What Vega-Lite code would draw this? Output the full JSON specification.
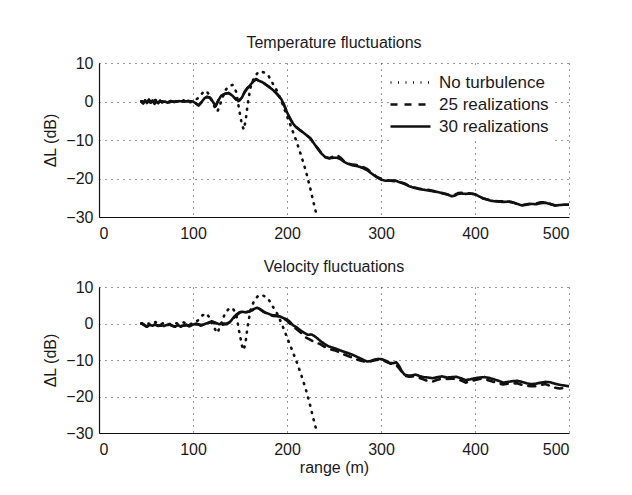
{
  "$schema": "https://vega.github.io/schema/vega-lite/v6.json",
  "padding": {"left": 42, "top": 35, "right": 5, "bottom": 5},
  "background": "white",
  "config": {
    "font": "Liberation Sans",
    "view": {"stroke": null},
    "axis": {
      "labelFont": "Liberation Sans", "labelFontSize": 16, "labelColor": "#1a1a1a",
      "titleFont": "Liberation Sans", "titleFontSize": 16, "titleFontWeight": "normal", "titleColor": "#1a1a1a",
      "domainColor": "#111", "domainWidth": 1.2,
      "ticks": false,
      "gridColor": "#333", "gridDash": [1, 5], "gridWidth": 1, "gridOpacity": 1
    },
    "title": {"font": "Liberation Sans", "fontSize": 16, "fontWeight": "normal", "color": "#1a1a1a", "offset": 4},
    "legend": {"labelFont": "Liberation Sans", "labelFontSize": 17, "labelColor": "#1a1a1a"}
  },
  "datasets": {
    "temp": [
      {"series": "No turbulence", "range": 45, "dL": 0}, {"series": "No turbulence", "range": 50, "dL": 0.3}, {"series": "No turbulence", "range": 55, "dL": -0.3}, {"series": "No turbulence", "range": 60, "dL": 0.4}, {"series": "No turbulence", "range": 65, "dL": -0.2}, {"series": "No turbulence", "range": 70, "dL": 0.2}, {"series": "No turbulence", "range": 75, "dL": -0.2}, {"series": "No turbulence", "range": 80, "dL": 0.2}, {"series": "No turbulence", "range": 85, "dL": -0.1}, {"series": "No turbulence", "range": 90, "dL": 0.3}, {"series": "No turbulence", "range": 95, "dL": -0.3}, {"series": "No turbulence", "range": 100, "dL": 0}, {"series": "No turbulence", "range": 105, "dL": 0.8}, {"series": "No turbulence", "range": 110, "dL": 2.2}, {"series": "No turbulence", "range": 114, "dL": 2.8}, {"series": "No turbulence", "range": 118, "dL": 1.5}, {"series": "No turbulence", "range": 122, "dL": -1}, {"series": "No turbulence", "range": 126, "dL": -2.6}, {"series": "No turbulence", "range": 130, "dL": 0}, {"series": "No turbulence", "range": 134, "dL": 2.8}, {"series": "No turbulence", "range": 138, "dL": 4}, {"series": "No turbulence", "range": 142, "dL": 4.3}, {"series": "No turbulence", "range": 146, "dL": 2.5}, {"series": "No turbulence", "range": 149, "dL": -2}, {"series": "No turbulence", "range": 152, "dL": -6}, {"series": "No turbulence", "range": 154, "dL": -7.3}, {"series": "No turbulence", "range": 156, "dL": -5}, {"series": "No turbulence", "range": 158, "dL": -1}, {"series": "No turbulence", "range": 161, "dL": 3.5}, {"series": "No turbulence", "range": 165, "dL": 6.3}, {"series": "No turbulence", "range": 170, "dL": 7.8}, {"series": "No turbulence", "range": 175, "dL": 7.6}, {"series": "No turbulence", "range": 180, "dL": 6.8}, {"series": "No turbulence", "range": 185, "dL": 4.6}, {"series": "No turbulence", "range": 190, "dL": 2.5}, {"series": "No turbulence", "range": 195, "dL": -0.5}, {"series": "No turbulence", "range": 200, "dL": -3.8}, {"series": "No turbulence", "range": 205, "dL": -7}, {"series": "No turbulence", "range": 210, "dL": -10.3}, {"series": "No turbulence", "range": 215, "dL": -14}, {"series": "No turbulence", "range": 220, "dL": -18}, {"series": "No turbulence", "range": 225, "dL": -22.8}, {"series": "No turbulence", "range": 228, "dL": -26}, {"series": "No turbulence", "range": 231, "dL": -29},
      {"series": "25 realizations", "range": 45, "dL": 0}, {"series": "25 realizations", "range": 47, "dL": -0.5}, {"series": "25 realizations", "range": 49, "dL": 0.3}, {"series": "25 realizations", "range": 51, "dL": -0.4}, {"series": "25 realizations", "range": 53, "dL": 0.5}, {"series": "25 realizations", "range": 55, "dL": -0.3}, {"series": "25 realizations", "range": 57, "dL": 0.2}, {"series": "25 realizations", "range": 59, "dL": -0.6}, {"series": "25 realizations", "range": 61, "dL": 0}, {"series": "25 realizations", "range": 63, "dL": -0.4}, {"series": "25 realizations", "range": 65, "dL": 0.2}, {"series": "25 realizations", "range": 67, "dL": -0.2}, {"series": "25 realizations", "range": 70, "dL": 0}, {"series": "25 realizations", "range": 73, "dL": -0.3}, {"series": "25 realizations", "range": 76, "dL": 0.1}, {"series": "25 realizations", "range": 80, "dL": -0.1}, {"series": "25 realizations", "range": 85, "dL": 0.1}, {"series": "25 realizations", "range": 90, "dL": 0}, {"series": "25 realizations", "range": 95, "dL": 0.1}, {"series": "25 realizations", "range": 100, "dL": 0}, {"series": "25 realizations", "range": 103, "dL": -0.5}, {"series": "25 realizations", "range": 106, "dL": -1}, {"series": "25 realizations", "range": 109, "dL": -0.2}, {"series": "25 realizations", "range": 112, "dL": 0.8}, {"series": "25 realizations", "range": 115, "dL": 1.2}, {"series": "25 realizations", "range": 118, "dL": 1}, {"series": "25 realizations", "range": 121, "dL": 0}, {"series": "25 realizations", "range": 124, "dL": -1.2}, {"series": "25 realizations", "range": 127, "dL": 0.3}, {"series": "25 realizations", "range": 130, "dL": 1.5}, {"series": "25 realizations", "range": 134, "dL": 2}, {"series": "25 realizations", "range": 138, "dL": 2.2}, {"series": "25 realizations", "range": 142, "dL": 1.5}, {"series": "25 realizations", "range": 146, "dL": 0.5}, {"series": "25 realizations", "range": 149, "dL": 0.2}, {"series": "25 realizations", "range": 152, "dL": 1}, {"series": "25 realizations", "range": 155, "dL": 2.5}, {"series": "25 realizations", "range": 158, "dL": 3.5}, {"series": "25 realizations", "range": 161, "dL": 4.3}, {"series": "25 realizations", "range": 164, "dL": 5.2}, {"series": "25 realizations", "range": 167, "dL": 5.8}, {"series": "25 realizations", "range": 170, "dL": 5.4}, {"series": "25 realizations", "range": 174, "dL": 5}, {"series": "25 realizations", "range": 178, "dL": 4.3}, {"series": "25 realizations", "range": 182, "dL": 3.6}, {"series": "25 realizations", "range": 186, "dL": 2.8}, {"series": "25 realizations", "range": 190, "dL": 1.8}, {"series": "25 realizations", "range": 194, "dL": 0.6}, {"series": "25 realizations", "range": 197, "dL": -1}, {"series": "25 realizations", "range": 200, "dL": -2.8}, {"series": "25 realizations", "range": 203, "dL": -4.3}, {"series": "25 realizations", "range": 206, "dL": -5.6}, {"series": "25 realizations", "range": 209, "dL": -6.5}, {"series": "25 realizations", "range": 213, "dL": -7.3}, {"series": "25 realizations", "range": 217, "dL": -8}, {"series": "25 realizations", "range": 221, "dL": -8.8}, {"series": "25 realizations", "range": 225, "dL": -9.6}, {"series": "25 realizations", "range": 229, "dL": -11}, {"series": "25 realizations", "range": 233, "dL": -12.3}, {"series": "25 realizations", "range": 237, "dL": -13.6}, {"series": "25 realizations", "range": 241, "dL": -14.5}, {"series": "25 realizations", "range": 245, "dL": -14.7}, {"series": "25 realizations", "range": 249, "dL": -14.3}, {"series": "25 realizations", "range": 253, "dL": -13.9}, {"series": "25 realizations", "range": 257, "dL": -14.6}, {"series": "25 realizations", "range": 261, "dL": -15.6}, {"series": "25 realizations", "range": 265, "dL": -16.1}, {"series": "25 realizations", "range": 270, "dL": -16.4}, {"series": "25 realizations", "range": 275, "dL": -16.5}, {"series": "25 realizations", "range": 280, "dL": -16.9}, {"series": "25 realizations", "range": 285, "dL": -17.5}, {"series": "25 realizations", "range": 290, "dL": -18.5}, {"series": "25 realizations", "range": 295, "dL": -19.5}, {"series": "25 realizations", "range": 300, "dL": -20.1}, {"series": "25 realizations", "range": 305, "dL": -20.5}, {"series": "25 realizations", "range": 310, "dL": -20.6}, {"series": "25 realizations", "range": 315, "dL": -20.7}, {"series": "25 realizations", "range": 320, "dL": -20.9}, {"series": "25 realizations", "range": 325, "dL": -21.3}, {"series": "25 realizations", "range": 330, "dL": -21.9}, {"series": "25 realizations", "range": 335, "dL": -22.3}, {"series": "25 realizations", "range": 340, "dL": -22.6}, {"series": "25 realizations", "range": 345, "dL": -22.8}, {"series": "25 realizations", "range": 350, "dL": -22.9}, {"series": "25 realizations", "range": 355, "dL": -23.2}, {"series": "25 realizations", "range": 360, "dL": -23.5}, {"series": "25 realizations", "range": 365, "dL": -23.8}, {"series": "25 realizations", "range": 370, "dL": -24.1}, {"series": "25 realizations", "range": 375, "dL": -24.5}, {"series": "25 realizations", "range": 378, "dL": -24.3}, {"series": "25 realizations", "range": 382, "dL": -23.8}, {"series": "25 realizations", "range": 386, "dL": -23.7}, {"series": "25 realizations", "range": 390, "dL": -23.8}, {"series": "25 realizations", "range": 395, "dL": -23.9}, {"series": "25 realizations", "range": 400, "dL": -24.1}, {"series": "25 realizations", "range": 404, "dL": -24.6}, {"series": "25 realizations", "range": 408, "dL": -25.1}, {"series": "25 realizations", "range": 412, "dL": -25.4}, {"series": "25 realizations", "range": 416, "dL": -25.6}, {"series": "25 realizations", "range": 420, "dL": -25.8}, {"series": "25 realizations", "range": 425, "dL": -25.9}, {"series": "25 realizations", "range": 430, "dL": -25.9}, {"series": "25 realizations", "range": 435, "dL": -25.9}, {"series": "25 realizations", "range": 440, "dL": -26.2}, {"series": "25 realizations", "range": 445, "dL": -26.6}, {"series": "25 realizations", "range": 450, "dL": -26.9}, {"series": "25 realizations", "range": 455, "dL": -26.7}, {"series": "25 realizations", "range": 460, "dL": -26.5}, {"series": "25 realizations", "range": 465, "dL": -26.5}, {"series": "25 realizations", "range": 470, "dL": -26.2}, {"series": "25 realizations", "range": 475, "dL": -26.2}, {"series": "25 realizations", "range": 480, "dL": -26.6}, {"series": "25 realizations", "range": 485, "dL": -27}, {"series": "25 realizations", "range": 490, "dL": -26.9}, {"series": "25 realizations", "range": 495, "dL": -26.8}, {"series": "25 realizations", "range": 500, "dL": -26.8},
      {"series": "30 realizations", "range": 45, "dL": 0}, {"series": "30 realizations", "range": 47, "dL": -0.5}, {"series": "30 realizations", "range": 49, "dL": 0.3}, {"series": "30 realizations", "range": 51, "dL": -0.4}, {"series": "30 realizations", "range": 53, "dL": 0.5}, {"series": "30 realizations", "range": 55, "dL": -0.3}, {"series": "30 realizations", "range": 57, "dL": 0.2}, {"series": "30 realizations", "range": 59, "dL": -0.6}, {"series": "30 realizations", "range": 61, "dL": 0}, {"series": "30 realizations", "range": 63, "dL": -0.4}, {"series": "30 realizations", "range": 65, "dL": 0.2}, {"series": "30 realizations", "range": 67, "dL": -0.2}, {"series": "30 realizations", "range": 70, "dL": 0}, {"series": "30 realizations", "range": 73, "dL": -0.3}, {"series": "30 realizations", "range": 76, "dL": 0.1}, {"series": "30 realizations", "range": 80, "dL": -0.1}, {"series": "30 realizations", "range": 85, "dL": 0.1}, {"series": "30 realizations", "range": 90, "dL": 0}, {"series": "30 realizations", "range": 95, "dL": 0.1}, {"series": "30 realizations", "range": 100, "dL": 0}, {"series": "30 realizations", "range": 103, "dL": -0.5}, {"series": "30 realizations", "range": 106, "dL": -1}, {"series": "30 realizations", "range": 109, "dL": -0.2}, {"series": "30 realizations", "range": 112, "dL": 0.8}, {"series": "30 realizations", "range": 115, "dL": 1.2}, {"series": "30 realizations", "range": 118, "dL": 1}, {"series": "30 realizations", "range": 121, "dL": 0}, {"series": "30 realizations", "range": 124, "dL": -1.2}, {"series": "30 realizations", "range": 127, "dL": 0.3}, {"series": "30 realizations", "range": 130, "dL": 1.5}, {"series": "30 realizations", "range": 134, "dL": 2}, {"series": "30 realizations", "range": 138, "dL": 2.2}, {"series": "30 realizations", "range": 142, "dL": 1.5}, {"series": "30 realizations", "range": 146, "dL": 0.5}, {"series": "30 realizations", "range": 149, "dL": 0.2}, {"series": "30 realizations", "range": 152, "dL": 1}, {"series": "30 realizations", "range": 155, "dL": 2.5}, {"series": "30 realizations", "range": 158, "dL": 3.5}, {"series": "30 realizations", "range": 161, "dL": 4.3}, {"series": "30 realizations", "range": 164, "dL": 5.2}, {"series": "30 realizations", "range": 167, "dL": 5.8}, {"series": "30 realizations", "range": 170, "dL": 5.4}, {"series": "30 realizations", "range": 174, "dL": 5}, {"series": "30 realizations", "range": 178, "dL": 4.3}, {"series": "30 realizations", "range": 182, "dL": 3.6}, {"series": "30 realizations", "range": 186, "dL": 2.8}, {"series": "30 realizations", "range": 190, "dL": 1.8}, {"series": "30 realizations", "range": 194, "dL": 0.6}, {"series": "30 realizations", "range": 197, "dL": -1}, {"series": "30 realizations", "range": 200, "dL": -2.8}, {"series": "30 realizations", "range": 203, "dL": -4.3}, {"series": "30 realizations", "range": 206, "dL": -5.6}, {"series": "30 realizations", "range": 209, "dL": -6.5}, {"series": "30 realizations", "range": 213, "dL": -7.3}, {"series": "30 realizations", "range": 217, "dL": -8}, {"series": "30 realizations", "range": 221, "dL": -8.8}, {"series": "30 realizations", "range": 225, "dL": -9.6}, {"series": "30 realizations", "range": 229, "dL": -11}, {"series": "30 realizations", "range": 233, "dL": -12.3}, {"series": "30 realizations", "range": 237, "dL": -13.6}, {"series": "30 realizations", "range": 241, "dL": -14.5}, {"series": "30 realizations", "range": 245, "dL": -14.8}, {"series": "30 realizations", "range": 249, "dL": -14.6}, {"series": "30 realizations", "range": 253, "dL": -14.6}, {"series": "30 realizations", "range": 257, "dL": -15}, {"series": "30 realizations", "range": 261, "dL": -15.7}, {"series": "30 realizations", "range": 265, "dL": -16.2}, {"series": "30 realizations", "range": 270, "dL": -16.6}, {"series": "30 realizations", "range": 275, "dL": -16.8}, {"series": "30 realizations", "range": 280, "dL": -17.2}, {"series": "30 realizations", "range": 285, "dL": -17.8}, {"series": "30 realizations", "range": 290, "dL": -18.7}, {"series": "30 realizations", "range": 295, "dL": -19.6}, {"series": "30 realizations", "range": 300, "dL": -20.3}, {"series": "30 realizations", "range": 305, "dL": -20.6}, {"series": "30 realizations", "range": 310, "dL": -20.5}, {"series": "30 realizations", "range": 315, "dL": -20.5}, {"series": "30 realizations", "range": 320, "dL": -21}, {"series": "30 realizations", "range": 325, "dL": -21.4}, {"series": "30 realizations", "range": 330, "dL": -22}, {"series": "30 realizations", "range": 335, "dL": -22.4}, {"series": "30 realizations", "range": 340, "dL": -22.7}, {"series": "30 realizations", "range": 345, "dL": -22.9}, {"series": "30 realizations", "range": 350, "dL": -23.1}, {"series": "30 realizations", "range": 355, "dL": -23.3}, {"series": "30 realizations", "range": 360, "dL": -23.5}, {"series": "30 realizations", "range": 365, "dL": -23.8}, {"series": "30 realizations", "range": 370, "dL": -24.1}, {"series": "30 realizations", "range": 375, "dL": -24.6}, {"series": "30 realizations", "range": 378, "dL": -24.5}, {"series": "30 realizations", "range": 382, "dL": -24}, {"series": "30 realizations", "range": 386, "dL": -23.9}, {"series": "30 realizations", "range": 390, "dL": -24}, {"series": "30 realizations", "range": 395, "dL": -23.9}, {"series": "30 realizations", "range": 400, "dL": -24.1}, {"series": "30 realizations", "range": 404, "dL": -24.6}, {"series": "30 realizations", "range": 408, "dL": -25.1}, {"series": "30 realizations", "range": 412, "dL": -25.4}, {"series": "30 realizations", "range": 416, "dL": -25.7}, {"series": "30 realizations", "range": 420, "dL": -25.9}, {"series": "30 realizations", "range": 425, "dL": -26}, {"series": "30 realizations", "range": 430, "dL": -26.1}, {"series": "30 realizations", "range": 435, "dL": -26}, {"series": "30 realizations", "range": 440, "dL": -26.2}, {"series": "30 realizations", "range": 445, "dL": -26.6}, {"series": "30 realizations", "range": 450, "dL": -27}, {"series": "30 realizations", "range": 455, "dL": -26.8}, {"series": "30 realizations", "range": 460, "dL": -26.6}, {"series": "30 realizations", "range": 465, "dL": -26.7}, {"series": "30 realizations", "range": 470, "dL": -26.4}, {"series": "30 realizations", "range": 475, "dL": -26.3}, {"series": "30 realizations", "range": 480, "dL": -26.6}, {"series": "30 realizations", "range": 485, "dL": -27}, {"series": "30 realizations", "range": 490, "dL": -26.9}, {"series": "30 realizations", "range": 495, "dL": -26.8}, {"series": "30 realizations", "range": 500, "dL": -26.8}
    ],
    "vel": [
      {"series": "No turbulence", "range": 45, "dL": 0}, {"series": "No turbulence", "range": 50, "dL": 0.3}, {"series": "No turbulence", "range": 55, "dL": -0.3}, {"series": "No turbulence", "range": 60, "dL": 0.4}, {"series": "No turbulence", "range": 65, "dL": -0.2}, {"series": "No turbulence", "range": 70, "dL": 0.2}, {"series": "No turbulence", "range": 75, "dL": -0.2}, {"series": "No turbulence", "range": 80, "dL": 0.2}, {"series": "No turbulence", "range": 85, "dL": -0.1}, {"series": "No turbulence", "range": 90, "dL": 0.3}, {"series": "No turbulence", "range": 95, "dL": -0.3}, {"series": "No turbulence", "range": 100, "dL": 0}, {"series": "No turbulence", "range": 105, "dL": 0.8}, {"series": "No turbulence", "range": 110, "dL": 2.2}, {"series": "No turbulence", "range": 114, "dL": 2.8}, {"series": "No turbulence", "range": 118, "dL": 1.5}, {"series": "No turbulence", "range": 122, "dL": -1}, {"series": "No turbulence", "range": 126, "dL": -2.6}, {"series": "No turbulence", "range": 130, "dL": 0}, {"series": "No turbulence", "range": 134, "dL": 2.8}, {"series": "No turbulence", "range": 138, "dL": 4}, {"series": "No turbulence", "range": 142, "dL": 4.3}, {"series": "No turbulence", "range": 146, "dL": 2.5}, {"series": "No turbulence", "range": 149, "dL": -2}, {"series": "No turbulence", "range": 152, "dL": -6}, {"series": "No turbulence", "range": 154, "dL": -7.3}, {"series": "No turbulence", "range": 156, "dL": -5}, {"series": "No turbulence", "range": 158, "dL": -1}, {"series": "No turbulence", "range": 161, "dL": 3.5}, {"series": "No turbulence", "range": 165, "dL": 6.3}, {"series": "No turbulence", "range": 170, "dL": 7.8}, {"series": "No turbulence", "range": 175, "dL": 7.6}, {"series": "No turbulence", "range": 180, "dL": 6.8}, {"series": "No turbulence", "range": 185, "dL": 4.6}, {"series": "No turbulence", "range": 190, "dL": 2.5}, {"series": "No turbulence", "range": 195, "dL": -0.5}, {"series": "No turbulence", "range": 200, "dL": -3.8}, {"series": "No turbulence", "range": 205, "dL": -7}, {"series": "No turbulence", "range": 210, "dL": -10.3}, {"series": "No turbulence", "range": 215, "dL": -14}, {"series": "No turbulence", "range": 220, "dL": -18}, {"series": "No turbulence", "range": 225, "dL": -22.8}, {"series": "No turbulence", "range": 228, "dL": -26}, {"series": "No turbulence", "range": 231, "dL": -29},
      {"series": "25 realizations", "range": 45, "dL": 0}, {"series": "25 realizations", "range": 50, "dL": -0.8}, {"series": "25 realizations", "range": 55, "dL": -0.5}, {"series": "25 realizations", "range": 60, "dL": -0.4}, {"series": "25 realizations", "range": 65, "dL": -0.6}, {"series": "25 realizations", "range": 70, "dL": -0.6}, {"series": "25 realizations", "range": 75, "dL": -0.3}, {"series": "25 realizations", "range": 80, "dL": -0.8}, {"series": "25 realizations", "range": 85, "dL": -0.6}, {"series": "25 realizations", "range": 90, "dL": -0.6}, {"series": "25 realizations", "range": 95, "dL": -0.5}, {"series": "25 realizations", "range": 100, "dL": -0.4}, {"series": "25 realizations", "range": 105, "dL": -0.2}, {"series": "25 realizations", "range": 110, "dL": -0.4}, {"series": "25 realizations", "range": 115, "dL": 0}, {"series": "25 realizations", "range": 120, "dL": 0.4}, {"series": "25 realizations", "range": 125, "dL": 0}, {"series": "25 realizations", "range": 130, "dL": -0.4}, {"series": "25 realizations", "range": 135, "dL": -0.1}, {"series": "25 realizations", "range": 140, "dL": 0.4}, {"series": "25 realizations", "range": 145, "dL": 2}, {"series": "25 realizations", "range": 150, "dL": 3}, {"series": "25 realizations", "range": 155, "dL": 3}, {"series": "25 realizations", "range": 160, "dL": 3.3}, {"series": "25 realizations", "range": 165, "dL": 3.8}, {"series": "25 realizations", "range": 170, "dL": 4.1}, {"series": "25 realizations", "range": 175, "dL": 3.2}, {"series": "25 realizations", "range": 180, "dL": 2.5}, {"series": "25 realizations", "range": 185, "dL": 2.1}, {"series": "25 realizations", "range": 190, "dL": 2}, {"series": "25 realizations", "range": 195, "dL": 1.6}, {"series": "25 realizations", "range": 200, "dL": 0.8}, {"series": "25 realizations", "range": 205, "dL": -0.6}, {"series": "25 realizations", "range": 210, "dL": -1.5}, {"series": "25 realizations", "range": 215, "dL": -2.6}, {"series": "25 realizations", "range": 220, "dL": -3.8}, {"series": "25 realizations", "range": 225, "dL": -4.5}, {"series": "25 realizations", "range": 230, "dL": -5.2}, {"series": "25 realizations", "range": 235, "dL": -5.6}, {"series": "25 realizations", "range": 240, "dL": -6.4}, {"series": "25 realizations", "range": 245, "dL": -7}, {"series": "25 realizations", "range": 250, "dL": -7.3}, {"series": "25 realizations", "range": 255, "dL": -7.8}, {"series": "25 realizations", "range": 260, "dL": -8.4}, {"series": "25 realizations", "range": 265, "dL": -8.9}, {"series": "25 realizations", "range": 270, "dL": -9.4}, {"series": "25 realizations", "range": 275, "dL": -9.9}, {"series": "25 realizations", "range": 280, "dL": -10.3}, {"series": "25 realizations", "range": 285, "dL": -10.6}, {"series": "25 realizations", "range": 290, "dL": -10.3}, {"series": "25 realizations", "range": 295, "dL": -10}, {"series": "25 realizations", "range": 300, "dL": -10}, {"series": "25 realizations", "range": 305, "dL": -10.4}, {"series": "25 realizations", "range": 310, "dL": -11}, {"series": "25 realizations", "range": 315, "dL": -11}, {"series": "25 realizations", "range": 320, "dL": -12.5}, {"series": "25 realizations", "range": 325, "dL": -14.3}, {"series": "25 realizations", "range": 330, "dL": -14.6}, {"series": "25 realizations", "range": 335, "dL": -14.5}, {"series": "25 realizations", "range": 340, "dL": -14.8}, {"series": "25 realizations", "range": 345, "dL": -15.3}, {"series": "25 realizations", "range": 350, "dL": -15.8}, {"series": "25 realizations", "range": 355, "dL": -15.9}, {"series": "25 realizations", "range": 360, "dL": -15.4}, {"series": "25 realizations", "range": 365, "dL": -15.1}, {"series": "25 realizations", "range": 370, "dL": -15.2}, {"series": "25 realizations", "range": 375, "dL": -15.1}, {"series": "25 realizations", "range": 380, "dL": -15.2}, {"series": "25 realizations", "range": 385, "dL": -15.6}, {"series": "25 realizations", "range": 390, "dL": -16.2}, {"series": "25 realizations", "range": 395, "dL": -15.9}, {"series": "25 realizations", "range": 400, "dL": -15.5}, {"series": "25 realizations", "range": 405, "dL": -15.2}, {"series": "25 realizations", "range": 410, "dL": -15.2}, {"series": "25 realizations", "range": 415, "dL": -15.6}, {"series": "25 realizations", "range": 420, "dL": -16}, {"series": "25 realizations", "range": 425, "dL": -16.4}, {"series": "25 realizations", "range": 430, "dL": -16.7}, {"series": "25 realizations", "range": 435, "dL": -16.5}, {"series": "25 realizations", "range": 440, "dL": -16.4}, {"series": "25 realizations", "range": 445, "dL": -16.4}, {"series": "25 realizations", "range": 450, "dL": -16.8}, {"series": "25 realizations", "range": 455, "dL": -17.1}, {"series": "25 realizations", "range": 460, "dL": -17.2}, {"series": "25 realizations", "range": 465, "dL": -17.2}, {"series": "25 realizations", "range": 470, "dL": -16.8}, {"series": "25 realizations", "range": 475, "dL": -16.6}, {"series": "25 realizations", "range": 480, "dL": -17.1}, {"series": "25 realizations", "range": 485, "dL": -17.6}, {"series": "25 realizations", "range": 490, "dL": -17.8}, {"series": "25 realizations", "range": 495, "dL": -17.7}, {"series": "25 realizations", "range": 500, "dL": -17.6},
      {"series": "30 realizations", "range": 45, "dL": 0}, {"series": "30 realizations", "range": 48, "dL": -0.3}, {"series": "30 realizations", "range": 51, "dL": -0.9}, {"series": "30 realizations", "range": 54, "dL": -0.4}, {"series": "30 realizations", "range": 57, "dL": -0.6}, {"series": "30 realizations", "range": 60, "dL": -0.2}, {"series": "30 realizations", "range": 63, "dL": -0.7}, {"series": "30 realizations", "range": 66, "dL": -0.3}, {"series": "30 realizations", "range": 69, "dL": -0.7}, {"series": "30 realizations", "range": 72, "dL": -0.4}, {"series": "30 realizations", "range": 75, "dL": -0.2}, {"series": "30 realizations", "range": 78, "dL": -0.6}, {"series": "30 realizations", "range": 81, "dL": -0.9}, {"series": "30 realizations", "range": 84, "dL": -0.4}, {"series": "30 realizations", "range": 87, "dL": -0.9}, {"series": "30 realizations", "range": 90, "dL": -0.5}, {"series": "30 realizations", "range": 93, "dL": -0.3}, {"series": "30 realizations", "range": 96, "dL": -0.8}, {"series": "30 realizations", "range": 100, "dL": -0.3}, {"series": "30 realizations", "range": 104, "dL": 0}, {"series": "30 realizations", "range": 108, "dL": -0.6}, {"series": "30 realizations", "range": 112, "dL": -0.2}, {"series": "30 realizations", "range": 116, "dL": 0.2}, {"series": "30 realizations", "range": 120, "dL": 0.6}, {"series": "30 realizations", "range": 124, "dL": 0.2}, {"series": "30 realizations", "range": 128, "dL": -0.2}, {"series": "30 realizations", "range": 132, "dL": 0}, {"series": "30 realizations", "range": 136, "dL": -0.2}, {"series": "30 realizations", "range": 140, "dL": 0.6}, {"series": "30 realizations", "range": 143, "dL": 1.6}, {"series": "30 realizations", "range": 146, "dL": 2.4}, {"series": "30 realizations", "range": 149, "dL": 3}, {"series": "30 realizations", "range": 152, "dL": 3.2}, {"series": "30 realizations", "range": 156, "dL": 3.1}, {"series": "30 realizations", "range": 160, "dL": 3.3}, {"series": "30 realizations", "range": 164, "dL": 3.9}, {"series": "30 realizations", "range": 168, "dL": 4.3}, {"series": "30 realizations", "range": 171, "dL": 4}, {"series": "30 realizations", "range": 174, "dL": 3.5}, {"series": "30 realizations", "range": 177, "dL": 3}, {"series": "30 realizations", "range": 180, "dL": 2.7}, {"series": "30 realizations", "range": 184, "dL": 2.3}, {"series": "30 realizations", "range": 188, "dL": 2.2}, {"series": "30 realizations", "range": 192, "dL": 2}, {"series": "30 realizations", "range": 196, "dL": 1.5}, {"series": "30 realizations", "range": 200, "dL": 1.1}, {"series": "30 realizations", "range": 203, "dL": 0.5}, {"series": "30 realizations", "range": 206, "dL": -0.4}, {"series": "30 realizations", "range": 210, "dL": -1}, {"series": "30 realizations", "range": 214, "dL": -1.8}, {"series": "30 realizations", "range": 218, "dL": -2.5}, {"series": "30 realizations", "range": 222, "dL": -3.1}, {"series": "30 realizations", "range": 226, "dL": -3}, {"series": "30 realizations", "range": 229, "dL": -3.4}, {"series": "30 realizations", "range": 232, "dL": -4}, {"series": "30 realizations", "range": 236, "dL": -4.9}, {"series": "30 realizations", "range": 240, "dL": -5.6}, {"series": "30 realizations", "range": 244, "dL": -6.2}, {"series": "30 realizations", "range": 248, "dL": -6.6}, {"series": "30 realizations", "range": 252, "dL": -6.9}, {"series": "30 realizations", "range": 256, "dL": -7.3}, {"series": "30 realizations", "range": 260, "dL": -7.7}, {"series": "30 realizations", "range": 265, "dL": -8.1}, {"series": "30 realizations", "range": 270, "dL": -8.6}, {"series": "30 realizations", "range": 275, "dL": -9.2}, {"series": "30 realizations", "range": 280, "dL": -9.8}, {"series": "30 realizations", "range": 285, "dL": -10.4}, {"series": "30 realizations", "range": 289, "dL": -10.3}, {"series": "30 realizations", "range": 293, "dL": -9.9}, {"series": "30 realizations", "range": 297, "dL": -9.7}, {"series": "30 realizations", "range": 301, "dL": -9.8}, {"series": "30 realizations", "range": 305, "dL": -10.2}, {"series": "30 realizations", "range": 309, "dL": -10.8}, {"series": "30 realizations", "range": 313, "dL": -10.9}, {"series": "30 realizations", "range": 316, "dL": -10.6}, {"series": "30 realizations", "range": 319, "dL": -11.5}, {"series": "30 realizations", "range": 322, "dL": -13}, {"series": "30 realizations", "range": 325, "dL": -14}, {"series": "30 realizations", "range": 329, "dL": -14.3}, {"series": "30 realizations", "range": 333, "dL": -14.2}, {"series": "30 realizations", "range": 337, "dL": -14}, {"series": "30 realizations", "range": 341, "dL": -14.4}, {"series": "30 realizations", "range": 345, "dL": -14.7}, {"series": "30 realizations", "range": 350, "dL": -14.8}, {"series": "30 realizations", "range": 355, "dL": -15}, {"series": "30 realizations", "range": 360, "dL": -14.7}, {"series": "30 realizations", "range": 365, "dL": -14.5}, {"series": "30 realizations", "range": 370, "dL": -14.8}, {"series": "30 realizations", "range": 375, "dL": -14.7}, {"series": "30 realizations", "range": 380, "dL": -14.6}, {"series": "30 realizations", "range": 385, "dL": -15}, {"series": "30 realizations", "range": 390, "dL": -15.5}, {"series": "30 realizations", "range": 395, "dL": -15.3}, {"series": "30 realizations", "range": 400, "dL": -15}, {"series": "30 realizations", "range": 405, "dL": -14.8}, {"series": "30 realizations", "range": 410, "dL": -14.7}, {"series": "30 realizations", "range": 415, "dL": -14.9}, {"series": "30 realizations", "range": 420, "dL": -15.3}, {"series": "30 realizations", "range": 425, "dL": -15.7}, {"series": "30 realizations", "range": 430, "dL": -16.2}, {"series": "30 realizations", "range": 435, "dL": -16}, {"series": "30 realizations", "range": 440, "dL": -15.8}, {"series": "30 realizations", "range": 445, "dL": -15.7}, {"series": "30 realizations", "range": 450, "dL": -16}, {"series": "30 realizations", "range": 455, "dL": -16.4}, {"series": "30 realizations", "range": 460, "dL": -16.6}, {"series": "30 realizations", "range": 465, "dL": -16.5}, {"series": "30 realizations", "range": 470, "dL": -16.2}, {"series": "30 realizations", "range": 475, "dL": -16}, {"series": "30 realizations", "range": 480, "dL": -16.1}, {"series": "30 realizations", "range": 485, "dL": -16.5}, {"series": "30 realizations", "range": 490, "dL": -16.8}, {"series": "30 realizations", "range": 495, "dL": -17}, {"series": "30 realizations", "range": 500, "dL": -17.2}
    ]
  },
  "vconcat": [
    {
      "width": 470, "height": 154,
      "title": "Temperature fluctuations",
      "data": {"name": "temp"},
      "mark": {"type": "line", "color": "#111", "strokeWidth": 2.6, "strokeCap": "round", "strokeJoin": "round", "clip": true},
      "encoding": {
        "x": {"field": "range", "type": "quantitative", "scale": {"domain": [0, 500], "nice": false},
              "axis": {"title": null, "values": [0, 100, 200, 300, 400, 500], "labelPadding": 8}},
        "y": {"field": "dL", "type": "quantitative", "scale": {"domain": [-30, 10], "nice": false},
              "axis": {"title": "ΔL (dB)", "values": [-30, -20, -10, 0, 10], "labelPadding": 6, "titlePadding": 7}},
        "strokeDash": {"field": "series", "type": "nominal",
          "scale": {"domain": ["No turbulence", "25 realizations", "30 realizations"], "range": [[1, 6.5], [7, 7], [1, 0]]},
          "legend": {"title": null, "orient": "none", "legendX": 294, "legendY": 2, "padding": 6, "fillColor": "white",
                     "symbolType": "M-2,0H2", "symbolSize": 400, "symbolStrokeWidth": 2.6, "symbolStrokeColor": "#111",
                     "labelOffset": 17, "rowPadding": 2}}
      }
    },
    {
      "width": 470, "height": 146,
      "title": "Velocity fluctuations",
      "data": {"name": "vel"},
      "mark": {"type": "line", "color": "#111", "strokeWidth": 2.6, "strokeCap": "round", "strokeJoin": "round", "clip": true},
      "encoding": {
        "x": {"field": "range", "type": "quantitative", "scale": {"domain": [0, 500], "nice": false},
              "axis": {"title": "range (m)", "values": [0, 100, 200, 300, 400, 500], "labelPadding": 8, "titlePadding": 2}},
        "y": {"field": "dL", "type": "quantitative", "scale": {"domain": [-30, 10], "nice": false},
              "axis": {"title": "ΔL (dB)", "values": [-30, -20, -10, 0, 10], "labelPadding": 6, "titlePadding": 7}},
        "strokeDash": {"field": "series", "type": "nominal",
          "scale": {"domain": ["No turbulence", "25 realizations", "30 realizations"], "range": [[1, 6.5], [7, 7], [1, 0]]},
          "legend": null}
      }
    }
  ],
  "spacing": 70,
  "bounds": "flush",
  "resolve": {"scale": {"strokeDash": "independent"}, "legend": {"strokeDash": "independent"}}
}
